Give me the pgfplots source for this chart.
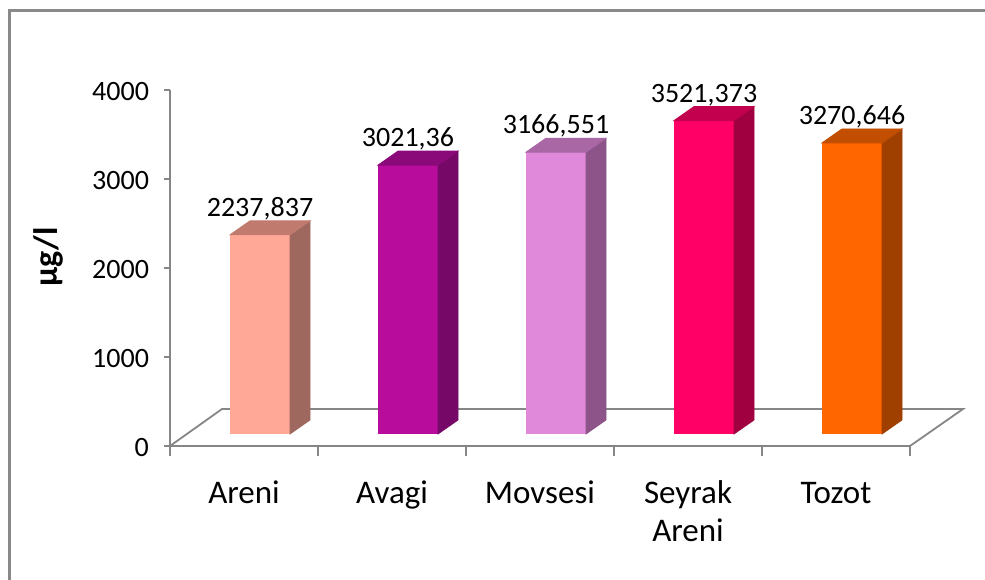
\documentclass[border=0pt]{standalone}
\usepackage{pgfplots}
\pgfplotsset{compat=1.18}
\usepackage{fontspec}
\setmainfont{Carlito}

\definecolor{frameg}{HTML}{898989}
\definecolor{lineg}{HTML}{868686}
\definecolor{arF}{HTML}{FFA898}\definecolor{arS}{HTML}{9E685E}\definecolor{arT}{HTML}{C17B6E}
\definecolor{avF}{HTML}{B80D9C}\definecolor{avS}{HTML}{760868}\definecolor{avT}{HTML}{8B0A7A}
\definecolor{moF}{HTML}{E088DA}\definecolor{moS}{HTML}{8C5488}\definecolor{moT}{HTML}{AA67A6}
\definecolor{seF}{HTML}{FF0066}\definecolor{seS}{HTML}{A0003F}\definecolor{seT}{HTML}{C2004E}
\definecolor{toF}{HTML}{FF6600}\definecolor{toS}{HTML}{A04000}\definecolor{toT}{HTML}{C24E00}

\pgfdeclareplotmark{none3d}{}
\newdimen\barh

\pgfplotsset{
  faces/.style 2 args={
    scatter, only marks, mark=none3d,
    visualization depends on={rawy \as \rawy},
    scatter/@pre marker code/.code={%
      \barh=\rawy pt\relax
      \barh=0.0445\barh
      \fill[#1] (15pt,0pt) -- (25pt,7pt) -- (25pt,7pt-\barh) -- (15pt,-\barh) -- cycle;
      \fill[#2] (-15pt,0pt) -- (15pt,0pt) -- (25pt,7pt) -- (-5pt,7pt) -- cycle;
    },
    scatter/@post marker code/.code={},
  },
}

% #1 x, #2 value, #3 label, #4 front, #5 side, #6 top
\newcommand\threedbar[6]{%
  \addplot[ybar, bar width=30pt, bar shift=0pt, fill=#4, draw=none,
    nodes near coords, point meta=explicit symbolic,
    every node near coord/.style={anchor=base, yshift=9.3pt, font=\fontsize{14}{16}\selectfont, text=black}]
    coordinates {(#1,#2) [#3]};
  \addplot[faces={#5}{#6}] coordinates {(#1,#2)};
}

\begin{document}
\begin{tikzpicture}
\useasboundingbox (-85pt,-66.5pt) rectangle (407.5pt,223pt);
% chart frame
\draw[frameg, line width=1.5pt] (-80.25pt,-70pt) -- (-80.25pt,217.5pt) -- (410pt,217.5pt);
% floor
\draw[lineg, line width=0.9pt] (0pt,0pt) -- (26pt,18.5pt) -- (396.5pt,18.5pt) -- (370pt,0pt);

\begin{axis}[
  at={(0pt,0pt)}, anchor=south west,
  scale only axis, width=370pt, height=178pt,
  xmin=-0.5, xmax=4.5, ymin=0, ymax=4000,
  axis x line*=bottom, axis y line*=left,
  axis line style={lineg, line width=0.9pt, -},
  xtick={0,1,2,3,4},
  xticklabels={Areni, Avagi, Movsesi, {\begin{tabular}[t]{@{}c@{}}Seyrak\\Areni\end{tabular}}, Tozot},
  major x tick style={draw=none},
  minor xtick={-0.5,0.5,1.5,2.5,3.5,4.5},
  minor tick length=5pt, major tick length=3pt,
  tick align=outside,
  tick style={lineg, line width=0.9pt},
  ytick={0,1000,2000,3000,4000},
  /pgf/number format/1000 sep={},
  /pgf/number format/assume math mode=true,
  yticklabel style={font=\fontsize{14}{16}\selectfont, anchor=east, xshift=-4pt, yshift=-1pt},
  xticklabel style={font=\fontsize{16.5}{19}\selectfont, anchor=base, yshift=-25.5pt},
  ylabel={\bfseries µg/l},
  ylabel style={at={([xshift=-61pt]axis description cs:0,0.531)}, anchor=center, font=\fontsize{17}{19}\selectfont},
]
\end{axis}

\begin{axis}[
  at={(8pt,6pt)}, anchor=south west,
  scale only axis, width=370pt, height=178pt,
  xmin=-0.5, xmax=4.5, ymin=0, ymax=4000,
  hide axis, clip=false,
]
\threedbar{0}{2237.837}{2237,837}{arF}{arS}{arT}
\threedbar{1}{3021.36}{3021,36}{avF}{avS}{avT}
\threedbar{2}{3166.551}{3166,551}{moF}{moS}{moT}
\threedbar{3}{3521.373}{3521,373}{seF}{seS}{seT}
\threedbar{4}{3270.646}{3270,646}{toF}{toS}{toT}
\end{axis}
\end{tikzpicture}
\end{document}
